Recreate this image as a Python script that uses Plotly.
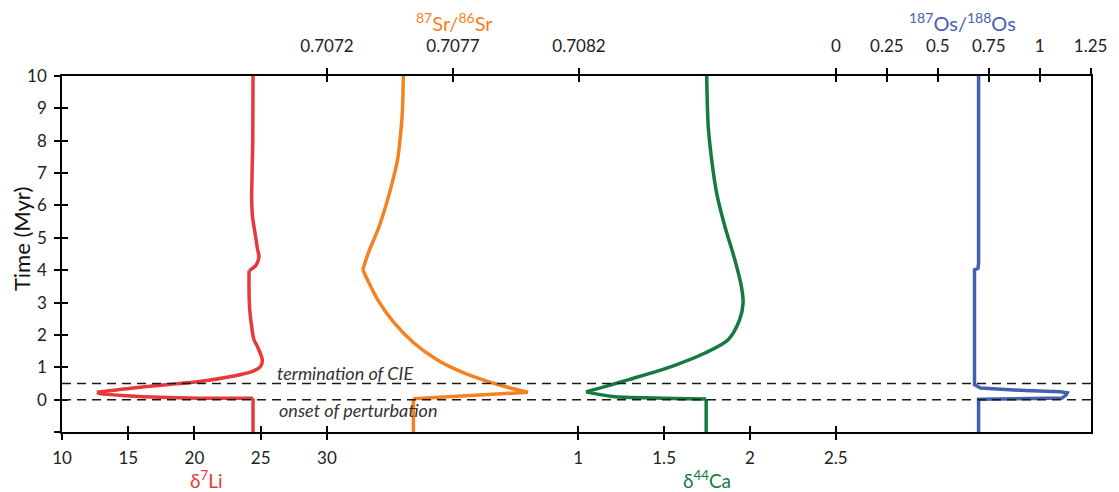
import plotly.graph_objects as go

# ---------------- data (time in Myr, proxy values) ----------------
li_time = [-1, 0.04, 0.045, 0.07, 0.12, 0.185, 0.225, 0.36, 0.46, 0.56, 0.72, 0.87,
           1.03, 1.23, 1.45, 1.65, 1.85, 2.16, 2.78, 3.3, 3.98, 4.03, 4.17, 4.42,
           4.63, 5.15, 5.66, 6.2, 8.0, 10]
li_value = [24.42, 24.42, 20.4, 17.4, 14.9, 12.9, 12.64, 15.38, 17.88, 20.37, 22.87, 24.37,
            25.0, 25.12, 24.95, 24.74, 24.49, 24.35, 24.17, 24.12, 24.12, 24.3, 24.67, 24.87,
            24.77, 24.57, 24.38, 24.32, 24.4, 24.42]

sr_time = [-1, 0.03, 0.225, 0.39, 0.57, 0.87, 1.23, 1.75, 2.37, 3.09, 4.01, 4.53,
           5.35, 6.38, 7.41, 8.44, 9.0, 10]
sr_value = [0.707543, 0.707543, 0.707998, 0.707913, 0.707834, 0.707729, 0.707637,
            0.707545, 0.707467, 0.707401, 0.707342, 0.707364, 0.707407, 0.707448,
            0.70748, 0.707495, 0.7075, 0.707503]

ca_time = [-1, 0.02, 0.05, 0.10, 0.24, 0.41, 0.62, 1.03, 1.44, 1.85, 2.47, 2.98,
           3.50, 4.32, 5.35, 6.38, 7.41, 8.44, 10]
ca_value = [1.745, 1.745, 1.45, 1.20, 1.045, 1.16, 1.295, 1.546, 1.738, 1.873, 1.94,
            1.96, 1.95, 1.912, 1.854, 1.806, 1.777, 1.757, 1.748]

os_time = [-1, 0.01, 0.05, 0.15, 0.21, 0.24, 0.28, 0.36, 0.46, 4.01, 4.06, 4.22, 10]
os_value = [0.70, 0.70, 1.11, 1.13, 1.135, 1.10, 0.93, 0.71, 0.68, 0.68, 0.697, 0.70, 0.70]

# indices where a curve has a sharp corner (onset, peak of excursion, kink at 4 Myr)
li_breaks = [1, 6, 20]
sr_breaks = [1, 2, 10]
ca_breaks = [1, 4]

time_ticks = list(range(-1, 11))
li_ticks = [10, 15, 20, 25, 30]
ca_ticks = [1, 1.5, 2, 2.5]
sr_ticks = [0.7072, 0.7077, 0.7082]
os_ticks = [0, 0.25, 0.5, 0.75, 1, 1.25]

event_lines = [0, 0.5]

# ---------------- colours ----------------
C_LI = "#E8393A"
C_SR = "#F58220"
C_CA = "#157A40"
C_OS = "#4660B0"

# ---------------- geometry ----------------
W, H = 1119, 492
ML, MR, MT, MB = 62, 20, 76, 60


def span(val, px, px_per_unit):
    """Axis range placing `val` at pixel column `px` with the given scale."""
    return [val - (px - ML) / px_per_unit, val + (W - MR - px) / px_per_unit]


li_range = span(10, 62, 13.35)
ca_range = span(1, 582.3, 173.0)
sr_range = span(0.7072, 329, 254000)
os_range = span(0, 842, 205.3)

FONT = "Lato"
tick_font = dict(family=FONT, size=17, color="#222222")


def xaxis(rng, vals, side, ticks, overlay=None, labels=True, line=True, standoff=4):
    d = dict(range=rng, tickmode="array", tickvals=vals,
             ticktext=[f"{v:g}" for v in vals],
             ticks=ticks, ticklen=6, tickwidth=1.5, tickcolor="black",
             showgrid=False, zeroline=False, showline=line,
             linecolor="black", linewidth=1.5, side=side, anchor="y",
             showticklabels=labels, tickfont=tick_font, fixedrange=True,
             ticklabelstandoff=standoff)
    if overlay:
        d["overlaying"] = overlay
    return d


fig = go.Figure()

line_kw = dict(mode="lines", showlegend=False, hoverinfo="skip")


def add_series(times, values, breaks, color, xa, shape):
    """Draw a series piecewise so its corners stay sharp while the rest is smooth."""
    idx = [0] + breaks + [len(times) - 1]
    for a, b in zip(idx[:-1], idx[1:]):
        fig.add_trace(go.Scatter(
            x=values[a:b + 1], y=times[a:b + 1], xaxis=xa, yaxis="y",
            line=dict(color=color, width=3.5, shape=shape,
                      **({"smoothing": 0.8} if shape == "spline" else {})),
            **line_kw))


add_series(li_time, li_value, li_breaks, C_LI, "x", "spline")
add_series(ca_time, ca_value, ca_breaks, C_CA, "x2", "spline")
add_series(sr_time, sr_value, sr_breaks, C_SR, "x3", "spline")
add_series(os_time, os_value, [], C_OS, "x4", "linear")

# empty traces so the inward-tick companion axes get drawn
for xa, ya in [("x5", "y"), ("x6", "y"), ("x7", "y"), ("x8", "y"), ("x", "y2")]:
    fig.add_trace(go.Scatter(x=[None], y=[None], xaxis=xa, yaxis=ya, **line_kw))

for t in event_lines:
    fig.add_hline(y=t, line=dict(color="#1a1a1a", width=1.5, dash="9px,6px"))

fig.update_layout(
    width=W, height=H,
    margin=dict(l=ML, r=MR, t=MT, b=MB, pad=0),
    paper_bgcolor="white", plot_bgcolor="white",
    font=dict(family=FONT, color="#222222"),
    xaxis=xaxis(li_range, li_ticks, "bottom", "outside"),
    xaxis2=xaxis(ca_range, ca_ticks, "bottom", "outside", overlay="x"),
    xaxis3=xaxis(sr_range, sr_ticks, "top", "outside", overlay="x", standoff=9),
    xaxis4=xaxis(os_range, os_ticks, "top", "outside", overlay="x", standoff=9),
    xaxis5=xaxis(li_range, li_ticks, "bottom", "inside", overlay="x", labels=False, line=False),
    xaxis6=xaxis(ca_range, ca_ticks, "bottom", "inside", overlay="x", labels=False, line=False),
    xaxis7=xaxis(sr_range, sr_ticks, "top", "inside", overlay="x", labels=False, line=False),
    xaxis8=xaxis(os_range, os_ticks, "top", "inside", overlay="x", labels=False, line=False),
    yaxis=dict(range=[-1, 10], tickmode="array", tickvals=time_ticks,
               ticktext=[""] + [str(t) for t in time_ticks[1:]],
               ticks="outside", ticklen=6, tickwidth=1.5, tickcolor="black",
               showline=True, mirror=True, linecolor="black", linewidth=1.5,
               showgrid=False, zeroline=False, tickfont=tick_font,
               fixedrange=True, ticklabelstandoff=4),
    yaxis2=dict(range=[-1, 10], tickmode="array", tickvals=time_ticks,
                ticks="inside", ticklen=6, tickwidth=1.5, tickcolor="black",
                showticklabels=False, showline=False, showgrid=False,
                zeroline=False, overlaying="y", anchor="x", fixedrange=True),
)

ann = []
# axis titles
ann.append(dict(text="<sup>87</sup>Sr/<sup>86</sup>Sr", xref="x3", x=0.707708,
                yref="paper", y=1, yanchor="middle", yshift=54, showarrow=False,
                font=dict(family=FONT, size=20, color=C_SR)))
ann.append(dict(text="<sup>187</sup>Os/<sup>188</sup>Os", xref="x4", x=0.623,
                yref="paper", y=1, yanchor="middle", yshift=54, showarrow=False,
                font=dict(family=FONT, size=20, color=C_OS)))
ann.append(dict(text="δ<sup>7</sup>Li", xref="x", x=20.9,
                yref="paper", y=0, yanchor="middle", yshift=-47, showarrow=False,
                font=dict(family=FONT, size=19, color=C_LI)))
ann.append(dict(text="δ<sup>44</sup>Ca", xref="x2", x=1.75,
                yref="paper", y=0, yanchor="middle", yshift=-47, showarrow=False,
                font=dict(family=FONT, size=19, color=C_CA)))
ann.append(dict(text="Time (Myr)", xref="paper", x=0, xshift=-41, xanchor="center",
                yref="y", y=4.96, yanchor="middle", textangle=-90, showarrow=False,
                font=dict(family=FONT, size=22, color="#111111")))
# event labels
ann.append(dict(text="<i>termination of CIE</i>", xref="x", x=26.1, xanchor="left",
                yref="y", y=0.81, yanchor="middle", showarrow=False,
                font=dict(family=FONT, size=18, color="#333333")))
ann.append(dict(text="<i>onset of perturbation</i>", xref="x", x=26.2, xanchor="left",
                yref="y", y=-0.32, yanchor="middle", showarrow=False,
                font=dict(family=FONT, size=18, color="#333333")))
fig.update_layout(annotations=ann)

fig.write_html("out.html")
